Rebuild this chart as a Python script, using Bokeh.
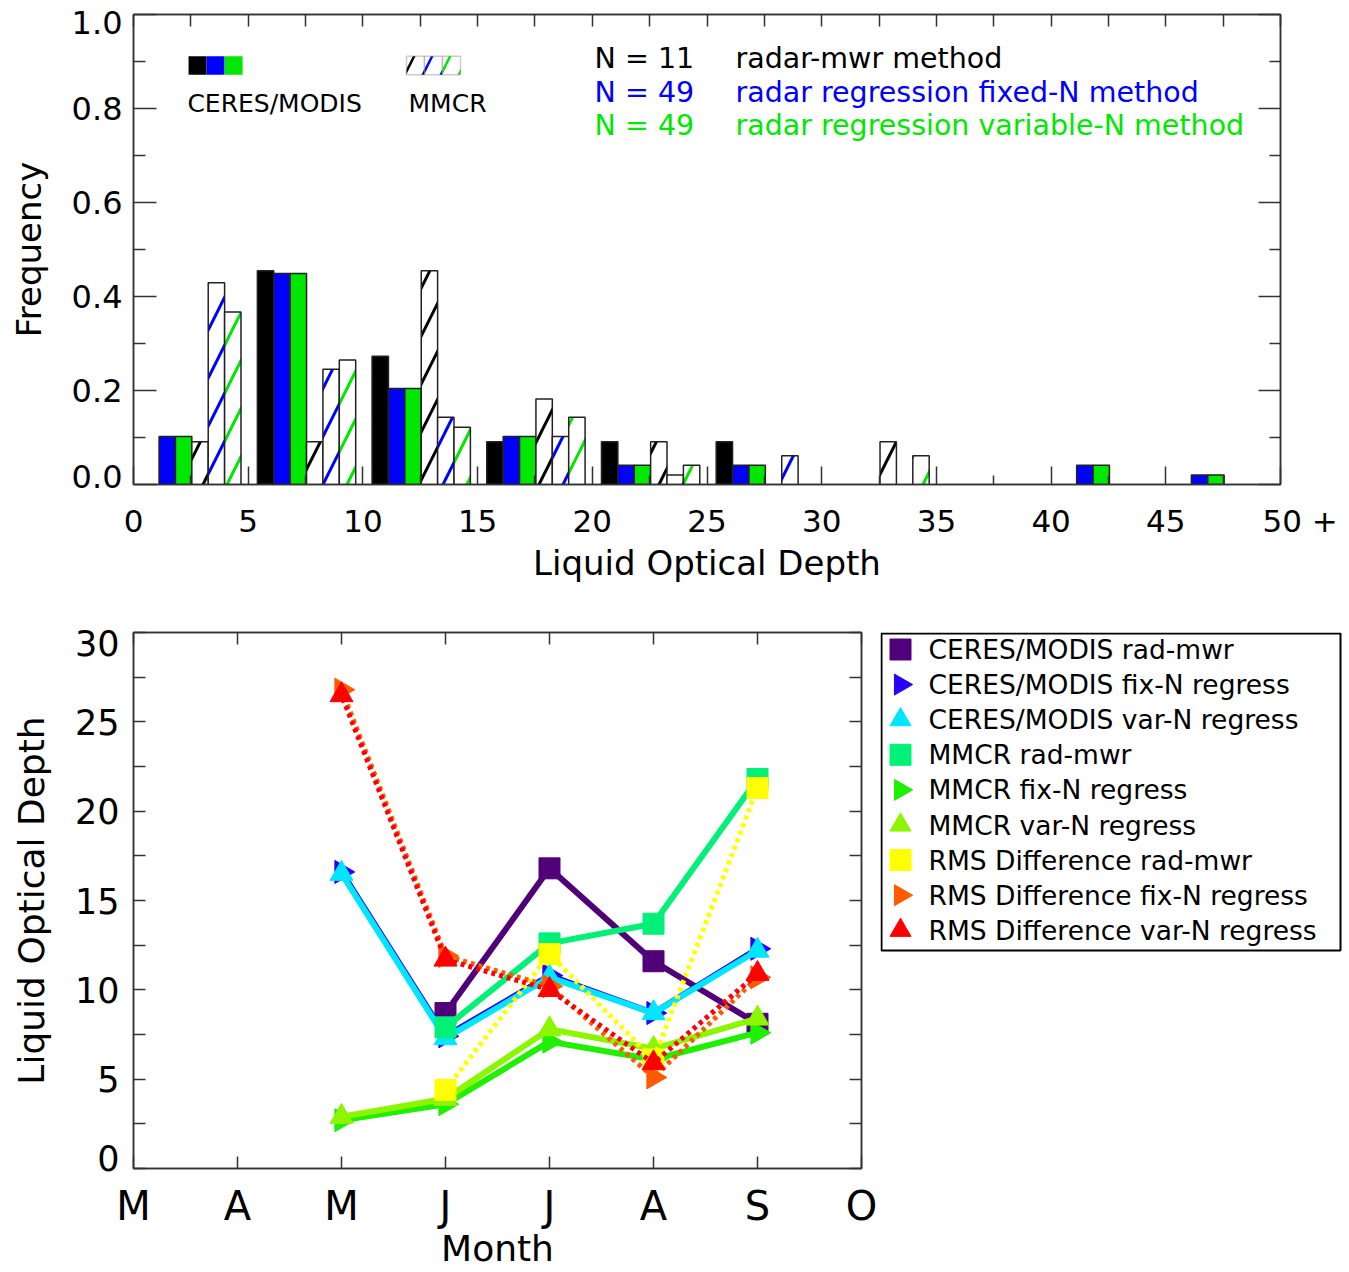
import numpy as np
from bokeh.plotting import figure
from bokeh.models import (ColumnDataSource, LinearAxis, FixedTicker, Range1d,
                          Label, BoxAnnotation)
from bokeh.layouts import row
from bokeh.core.properties import value
from bokeh.embed import file_html
from bokeh.resources import INLINE

FONT = "DejaVu Sans"
AX = "#333333"

# ---------------- top panel: histogram of liquid optical depth ----------------
bin_starts = [0, 5, 10, 15, 20, 25, 30, 35, 40, 45]
ceres_rad_mwr = [0.000, 0.455, 0.273, 0.091, 0.091, 0.091, 0.000, 0.000, 0.000, 0.000]
ceres_fix_n   = [0.102, 0.449, 0.204, 0.102, 0.041, 0.041, 0.000, 0.000, 0.041, 0.020]
ceres_var_n   = [0.102, 0.449, 0.204, 0.102, 0.041, 0.041, 0.000, 0.000, 0.041, 0.020]
mmcr_rad_mwr  = [0.091, 0.091, 0.455, 0.182, 0.091, 0.000, 0.091, 0.000, 0.000, 0.000]
mmcr_fix_n    = [0.429, 0.245, 0.143, 0.102, 0.020, 0.061, 0.000, 0.000, 0.000, 0.000]
mmcr_var_n    = [0.367, 0.265, 0.122, 0.143, 0.041, 0.000, 0.061, 0.000, 0.000, 0.000]
top_series = [ceres_rad_mwr, ceres_fix_n, ceres_var_n, mmcr_rad_mwr, mmcr_fix_n, mmcr_var_n]
top_colors = ["#000000", "#0000ff", "#00e800", "#000000", "#0000ff", "#00e800"]
top_hatched = [False, False, False, True, True, True]
x_ticks_top = [0, 5, 10, 15, 20, 25, 30, 35, 40, 45, 50]
x_tick_labels_top = ["0", "5", "10", "15", "20", "25", "30", "35", "40", "45",
                     "\u2007\u200750 +"]
y_ticks_top = [0.0, 0.2, 0.4, 0.6, 0.8, 1.0]
y_minor_top = [0.1, 0.3, 0.5, 0.7, 0.9]
y_tick_labels_top = ["0.0", "0.2", "0.4", "0.6", "0.8", "1.0"]
method_counts = ["N = 11", "N = 49", "N = 49"]
method_names = ["radar-mwr method", "radar regression fixed-N method",
                "radar regression variable-N method"]
method_colors = ["#000000", "#0000ff", "#00e800"]

# ---------------- bottom panel: monthly optical depth ----------------
months = [5, 6, 7, 8, 9]
month_ticks = [3, 4, 5, 6, 7, 8, 9, 10]
month_labels = ["M", "A", "M", "J", "J", "A", "S", "O"]
nan = float("nan")
cm_rad_mwr  = [nan, 8.7, 16.8, 11.6, 8.1]
cm_fix_n    = [16.6, 7.4, 10.8, 8.7, 12.3]
cm_var_n    = [16.5, 7.3, 10.7, 8.7, 12.2]
mm_rad_mwr  = [nan, 7.9, 12.6, 13.7, 21.8]
mm_fix_n    = [2.7, 3.6, 7.1, 6.1, 7.6]
mm_var_n    = [2.9, 3.9, 7.8, 6.7, 8.4]
rms_rad_mwr = [nan, 4.4, 12.0, 6.1, 21.3]
rms_fix_n   = [26.8, 11.9, 10.2, 5.1, 10.7]
rms_var_n   = [26.5, 11.7, 10.0, 5.9, 10.9]
bottom_names = ["CERES/MODIS rad-mwr", "CERES/MODIS fix-N regress", "CERES/MODIS var-N regress",
                "MMCR rad-mwr", "MMCR fix-N regress", "MMCR var-N regress",
                "RMS Difference rad-mwr", "RMS Difference fix-N regress", "RMS Difference var-N regress"]
bottom_values = [cm_rad_mwr, cm_fix_n, cm_var_n, mm_rad_mwr, mm_fix_n, mm_var_n,
                 rms_rad_mwr, rms_fix_n, rms_var_n]
bottom_colors = ["#500078", "#2800ff", "#00e6ff", "#00f078", "#1ef000", "#8cf500",
                 "#ffff00", "#ff5a00", "#ff0000"]
bottom_markers = ["square", "triangle", "triangle"] * 3
bottom_angles = [0.0, -np.pi / 2, 0.0] * 3
bottom_dashed = [False] * 6 + [True] * 3
y_ticks_bottom = [0, 5, 10, 15, 20, 25, 30]
y_minor_bottom = [2.5, 7.5, 12.5, 17.5, 22.5, 27.5]
y_tick_labels_bottom = ["0", "5", "10", "15", "20", "25", "30"]


def style_axis(ax, major_in, minor_in, size=None):
    ax.axis_line_color = AX
    ax.axis_line_width = 1.5
    ax.major_tick_line_color = AX
    ax.minor_tick_line_color = AX
    ax.major_tick_line_width = 1.5
    ax.minor_tick_line_width = 1.5
    ax.major_tick_in = major_in
    ax.major_tick_out = 0
    ax.minor_tick_in = minor_in
    ax.minor_tick_out = 0
    ax.major_label_text_font = FONT
    ax.axis_label_text_font = FONT
    ax.axis_label_text_font_style = "normal"
    ax.major_label_text_color = "black"
    ax.axis_label_text_color = "black"
    if size:
        ax.major_label_text_font_size = size


def blank_axis(ticks, minor, major_in, minor_in):
    ax = LinearAxis(ticker=FixedTicker(ticks=ticks, minor_ticks=minor))
    style_axis(ax, major_in, minor_in)
    ax.major_label_overrides = {t: "" for t in ticks}
    ax.major_label_standoff = 0
    return ax


def label_axis(ax, ticks, labels, lo, hi, inset, size, standoff):
    # labels only (IDL keeps the end labels inside the axis span)
    pos = [t + inset if t == lo else (t - inset if t == hi else t) for t in ticks]
    ax.ticker = FixedTicker(ticks=pos, minor_ticks=[])
    style_axis(ax, 0, 0, size)
    ax.axis_line_color = None
    ax.major_tick_line_color = None
    ax.minor_tick_line_color = None
    ax.major_label_overrides = dict(zip(pos, labels))
    ax.major_label_standoff = standoff


# ================= top figure =================
p1 = figure(width=1349, height=600, x_range=Range1d(0, 50), y_range=Range1d(0, 1.0),
            output_backend="svg", toolbar_location=None,
            min_border_left=133, min_border_right=69, min_border_top=14, min_border_bottom=116)
p1.grid.visible = False
p1.outline_line_color = AX
p1.outline_line_width = 1.5

bar_w = 5.0 / 7.0
for i, (vals, col, hat) in enumerate(zip(top_series, top_colors, top_hatched)):
    xs = [b + 0.4 + bar_w * (i + 0.5) for b, v in zip(bin_starts, vals) if v > 0]
    ys = [v for v in vals if v > 0]
    src = ColumnDataSource(dict(x=xs, top=ys))
    if hat:
        p1.vbar(x="x", top="top", width=bar_w, bottom=0, source=src,
                fill_color="white", line_color="#222222", line_width=1.5,
                hatch_pattern="/", hatch_color=col, hatch_weight=3, hatch_scale=48)
    else:
        p1.vbar(x="x", top="top", width=bar_w, bottom=0, source=src,
                fill_color=col, line_color="#222222", line_width=1.5)

xa = p1.xaxis[0]
xa.ticker = FixedTicker(ticks=x_ticks_top, minor_ticks=[b + 2.5 for b in bin_starts])
style_axis(xa, 18, 9, "31px")
xa.major_label_overrides = dict(zip(x_ticks_top, x_tick_labels_top))
xa.major_label_standoff = 18
xa.axis_label = "Liquid Optical Depth"
xa.axis_label_text_font_size = "34px"
xa.axis_label_standoff = 1

ya = p1.yaxis[0]
label_axis(ya, y_ticks_top, y_tick_labels_top, 0.0, 1.0, 0.018, "32px", 11)
ya.axis_label = "Frequency"
ya.axis_label_text_font_size = "34px"
ya.axis_label_standoff = 20
p1.left = [blank_axis(y_ticks_top, y_minor_top, 23, 12), ya]

p1.add_layout(blank_axis([b + 2.5 for b in bin_starts] + x_ticks_top, [], 12, 0), "above")
p1.add_layout(blank_axis(y_ticks_top, y_minor_top, 22, 11), "right")

# key: solid swatch = CERES/MODIS, hatched swatch = MMCR
sw_w = 0.785
for k, col in enumerate(top_colors[:3]):
    p1.add_layout(BoxAnnotation(left=2.40 + k * sw_w, right=2.40 + (k + 1) * sw_w,
                                bottom=0.872, top=0.911, fill_color=col, fill_alpha=1,
                                line_color=None))
for k, col in enumerate(top_colors[3:]):
    p1.add_layout(BoxAnnotation(left=11.9 + k * sw_w, right=11.9 + (k + 1) * sw_w,
                                bottom=0.872, top=0.911, fill_color="white", fill_alpha=1,
                                line_color="#555555", line_width=1.5,
                                hatch_pattern="/", hatch_color=col, hatch_weight=2.5,
                                hatch_scale=36))
p1.add_layout(Label(x=2.35, y=0.81, text="CERES/MODIS", text_font=FONT, text_font_size="25px",
                    text_color="black", text_baseline="middle"))
p1.add_layout(Label(x=11.99, y=0.81, text="MMCR", text_font=FONT, text_font_size="25px",
                    text_color="black", text_baseline="middle"))
for k, (cnt, name, col) in enumerate(zip(method_counts, method_names, method_colors)):
    yk = 0.907 - 0.072 * k
    p1.add_layout(Label(x=20.1, y=yk, text=cnt, text_font=FONT, text_font_size="28.5px",
                        text_color=col, text_baseline="middle"))
    p1.add_layout(Label(x=26.24, y=yk, text=name, text_font=FONT, text_font_size="28.5px",
                        text_color=col, text_baseline="middle"))

# ================= bottom figure =================
p2 = figure(width=880, height=672, x_range=Range1d(3, 10), y_range=Range1d(0, 30),
            output_backend="svg", toolbar_location=None,
            min_border_left=133, min_border_right=19, min_border_top=32, min_border_bottom=104)
p2.grid.visible = False
p2.outline_line_color = AX
p2.outline_line_width = 1.5

for name, vals, col, mk, ang, dashed in zip(bottom_names, bottom_values, bottom_colors,
                                            bottom_markers, bottom_angles, bottom_dashed):
    src = ColumnDataSource(dict(x=months, y=vals))
    if dashed:
        off = 4 if col == "#ff0000" else 0
        p2.line("x", "y", source=src, line_color=col, line_width=5, line_dash="4 4",
                line_dash_offset=off)
    else:
        p2.line("x", "y", source=src, line_color=col, line_width=6)
    p2.scatter("x", "y", source=src, marker=mk, size=21 if mk == "square" else 23,
               angle=ang, fill_color=col, line_color=col)

bx = p2.xaxis[0]
bx.ticker = FixedTicker(ticks=month_ticks)
style_axis(bx, 12, 0, "40px")
bx.major_label_overrides = dict(zip(month_ticks, month_labels))
bx.major_label_standoff = 14
bx.axis_label = "Month"
bx.axis_label_text_font_size = "36px"
bx.axis_label_standoff = -4

by = p2.yaxis[0]
label_axis(by, y_ticks_bottom, y_tick_labels_bottom, 0, 30, 0.6, "35px", 14)
by.axis_label = "Liquid Optical Depth"
by.axis_label_text_font_size = "36px"
by.axis_label_standoff = 20
p2.left = [blank_axis(y_ticks_bottom, y_minor_bottom, 12, 12), by]

p2.add_layout(blank_axis(month_ticks, [], 12, 0), "above")
p2.add_layout(blank_axis(y_ticks_bottom, y_minor_bottom, 12, 12), "right")

# ================= key for the bottom panel =================
p3 = figure(width=469, height=672, x_range=Range1d(0, 469), y_range=Range1d(536, 0),
            x_axis_type=None, y_axis_type=None, output_backend="svg", toolbar_location=None,
            min_border_left=0, min_border_right=0, min_border_top=32, min_border_bottom=104)
p3.outline_line_color = None
p3.grid.visible = False
p3.quad(left=1, right=460, top=1, bottom=318, fill_color="white",
        line_color="black", line_width=2)
key_src = ColumnDataSource(dict(
    row=[17 + 35.1 * i for i in range(len(bottom_names))],
    name=bottom_names, color=bottom_colors, marker=bottom_markers, angle=bottom_angles))
p3.scatter(x=20, y="row", source=key_src, marker="marker", angle="angle", size=21,
           fill_color="color", line_color="color")
p3.text(x=48, y="row", text="name", source=key_src, text_font=value(FONT),
        text_font_size="26.5px", text_baseline="middle", text_color="black")

open("out.html", "w").write(file_html([p1, row(p2, p3)], INLINE))
